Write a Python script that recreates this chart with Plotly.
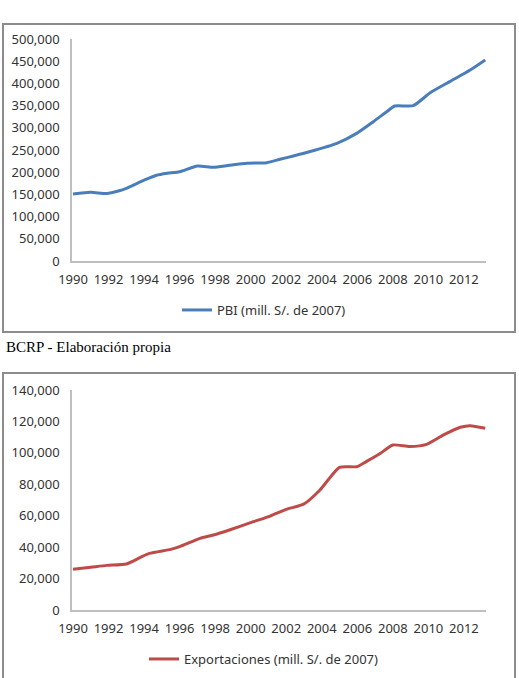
import plotly.graph_objects as go

# ---- data ----
pbi_years = [1990.0, 1991.0, 1991.9, 1992.55, 1993.0, 1994.0, 1994.7, 1995.3, 1996.0, 1997.0,
             1997.9, 1998.8, 1999.8, 2000.9, 2001.65, 2002.4, 2003.3, 2004.85, 2005.96, 2006.9,
             2007.65, 2008.1, 2009.15, 2010.1, 2011.2, 2012.35, 2013.2]
pbi_values = [151000, 154600, 152000, 157600, 163600, 182000, 193000, 197500, 201000, 214000,
              211000, 215500, 220000, 221500, 229000, 236500, 246000, 265000, 287500, 313800,
              336000, 349000, 350000, 379000, 404000, 430000, 452700]

exp_years = [1990.0, 1991.0, 1991.9, 1993.0, 1993.8, 1994.3, 1995.5, 1996.0, 1997.15, 1997.9,
             1998.8, 2000.15, 2001.1, 2002.0, 2003.0, 2003.9, 2005.0, 2005.97, 2006.5, 2007.3,
             2008.0, 2008.95, 2009.9, 2010.85, 2011.8, 2012.35, 2013.2]
exp_values = [25900, 27200, 28400, 29300, 33500, 36000, 38600, 40300, 45600, 47700,
              50900, 56200, 59800, 64000, 67500, 76400, 90800, 91200, 94400, 99700,
              105000, 104000, 105400, 111400, 116300, 117300, 115600]

year_ticks = [1990, 1992, 1994, 1996, 1998, 2000, 2002, 2004, 2006, 2008, 2010, 2012]
year_labels = [str(y) for y in year_ticks]
pbi_yticks = [0, 50000, 100000, 150000, 200000, 250000, 300000, 350000, 400000, 450000, 500000]
exp_yticks = [0, 20000, 40000, 60000, 80000, 100000, 120000, 140000]

pbi_name = "PBI (mill. S/. de 2007)"
exp_name = "Exportaciones (mill. S/. de 2007)"
source_text = "BCRP - Elaboración propia"

# ---- figure ----
W, H = 519, 678
def px(x):
    return x / W
def py(y):
    return 1 - y / H

fig = go.Figure()
fig.add_trace(go.Scatter(x=pbi_years, y=pbi_values, mode="lines", name=pbi_name,
                         line=dict(color="#4A7EBB", width=3, shape="spline", smoothing=0.6),
                         xaxis="x", yaxis="y", legend="legend"))
fig.add_trace(go.Scatter(x=exp_years, y=exp_values, mode="lines", name=exp_name,
                         line=dict(color="#BE4B48", width=3, shape="spline", smoothing=0.6),
                         xaxis="x2", yaxis="y2", legend="legend2"))

font = dict(family="Noto Sans", size=13, color="#333333")
xr = [1990 - 1 / 17.77, 1990 + 413 / 17.77]
xdom = [px(72), px(486)]

common_x = dict(range=xr, domain=xdom, tickvals=year_ticks, ticktext=year_labels,
                showgrid=False, zeroline=False, showline=True, linecolor="#BFBFBF",
                linewidth=1.5, ticks="", tickfont=font, ticklabelstandoff=6,
                fixedrange=True, automargin=False)
common_y = dict(showgrid=False, zeroline=False, showline=True, linecolor="#BFBFBF",
                linewidth=1.5, ticks="", tickfont=font, tickformat=",",
                ticklabelstandoff=8, fixedrange=True, automargin=False)

fig.update_layout(
    width=W, height=H, margin=dict(l=0, r=0, t=0, b=0, pad=0),
    paper_bgcolor="white", plot_bgcolor="white",
    xaxis=dict(**common_x, anchor="y"),
    yaxis=dict(**common_y, range=[0, 500000], tickvals=pbi_yticks,
               domain=[py(261), py(39)], anchor="x"),
    xaxis2=dict(**common_x, anchor="y2"),
    yaxis2=dict(**common_y, range=[0, 140000], tickvals=exp_yticks,
                domain=[py(610), py(390)], anchor="x2"),
    legend=dict(x=px(264), y=py(310), xanchor="center", yanchor="middle",
                font=font, bgcolor="rgba(0,0,0,0)", itemwidth=30),
    legend2=dict(x=px(264), y=py(659), xanchor="center", yanchor="middle",
                 font=font, bgcolor="rgba(0,0,0,0)", itemwidth=30),
    showlegend=True,
)

# chart frames
fig.add_shape(type="rect", xref="paper", yref="paper",
              x0=px(3), x1=px(515), y0=py(700), y1=py(373),
              line=dict(color="#8C8C8C", width=2), fillcolor="rgba(0,0,0,0)", layer="below")
fig.add_shape(type="rect", xref="paper", yref="paper",
              x0=px(3), x1=px(515), y0=py(332), y1=py(24),
              line=dict(color="#8C8C8C", width=2), fillcolor="rgba(0,0,0,0)", layer="below")

fig.add_annotation(text=source_text, xref="paper", yref="paper", x=px(4), y=py(347),
                   xanchor="left", yanchor="middle", showarrow=False,
                   font=dict(family="Liberation Serif", size=15, color="#000000"))

fig.write_html("out.html")
